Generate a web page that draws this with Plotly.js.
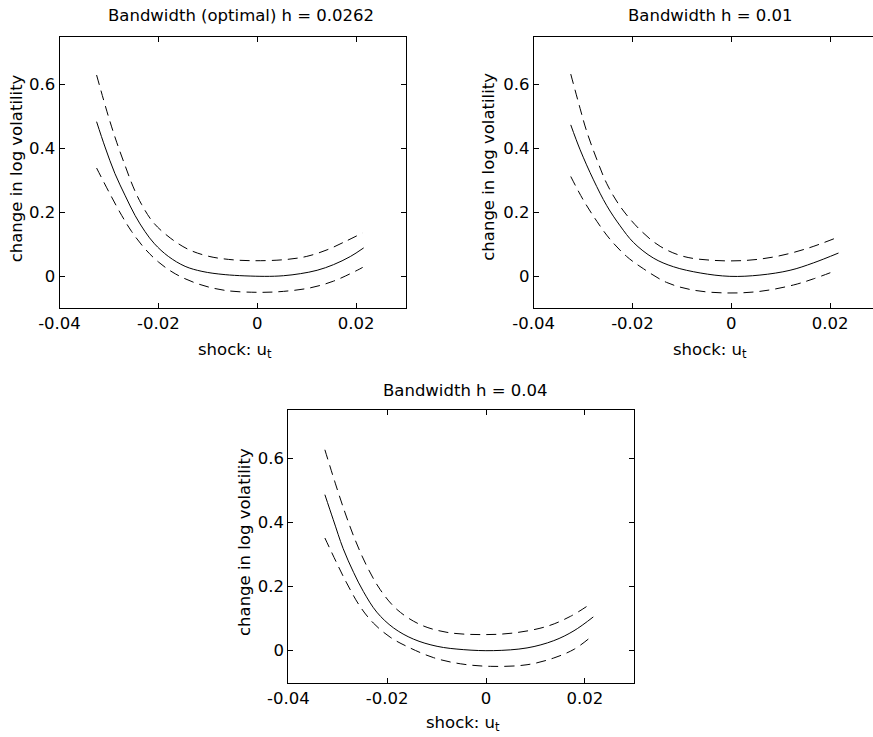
<!DOCTYPE html>
<html>
<head>
<meta charset="utf-8">
<script src="https://cdn.plot.ly/plotly-3.0.1.min.js"></script>
<style>
html, body { margin: 0; padding: 0; overflow: hidden; background: #fff; }
#chart { width: 880px; height: 737px; }
</style>
</head>
<body>
<div id="chart"></div>
<script>
// ---- data ----
const xTickVals = [-0.04, -0.02, 0, 0.02];
const xTickText = ['-0.04', '-0.02', '0', '0.02'];
const yTickVals = [0, 0.2, 0.4, 0.6];
const yTickText = ['0', '0.2', '0.4', '0.6'];

const panelTitles = ['Bandwidth (optimal) h = 0.0262', 'Bandwidth h = 0.01', 'Bandwidth h = 0.04'];
const xLabel = 'shock: u<sub>t</sub>';
const yLabel = 'change in log volatility';

// Panel 1: h = 0.0262
const p1EstU = [-0.0325,-0.0308,-0.0288,-0.0267,-0.0247,-0.0227,-0.0208,-0.0180,-0.0146,-0.0112,-0.0065,0.0014,0.0053,0.0087,0.0121,0.0154,0.0188,0.0215];
const p1EstV = [0.484,0.405,0.322,0.252,0.190,0.140,0.102,0.0625,0.0313,0.0156,0.0053,0.000,0.002,0.0084,0.019,0.0366,0.062,0.089];
const p1UpU = [-0.0325,-0.0301,-0.0284,-0.0267,-0.0251,-0.0234,-0.0210,-0.0176,-0.0139,-0.0099,-0.0058,-0.0011,0.0053,0.0100,0.0141,0.0175,0.0213];
const p1UpV = [0.630,0.500,0.418,0.345,0.280,0.225,0.168,0.120,0.084,0.063,0.053,0.049,0.052,0.0625,0.083,0.107,0.136];
const p1LoU = [-0.0325,-0.0298,-0.0274,-0.0254,-0.0227,-0.0200,-0.0166,-0.0119,-0.0065,0.0002,0.0053,0.0107,0.0154,0.0202,0.0213];
const p1LoV = [0.339,0.258,0.190,0.140,0.086,0.045,0.008,-0.024,-0.044,-0.050,-0.047,-0.036,-0.015,0.019,0.028];

// Panel 2: h = 0.01
const p2EstU = [-0.0325,-0.0306,-0.0279,-0.0252,-0.0225,-0.0198,-0.0158,-0.0117,-0.0063,-0.0003,0.0058,0.0119,0.0166,0.0217];
const p2EstV = [0.474,0.396,0.302,0.221,0.158,0.106,0.0575,0.030,0.0106,0.000,0.004,0.019,0.042,0.073];
const p2UpU = [-0.0325,-0.0306,-0.0293,-0.0272,-0.0252,-0.0225,-0.0185,-0.0144,-0.0097,-0.0036,0.0031,0.0092,0.0153,0.0210];
const p2UpV = [0.633,0.525,0.455,0.365,0.290,0.219,0.146,0.094,0.0625,0.050,0.050,0.0625,0.087,0.119];
const p2LoU = [-0.0325,-0.0300,-0.0272,-0.0246,-0.0212,-0.0178,-0.0131,-0.0077,-0.0009,0.0058,0.0126,0.0166,0.0210];
const p2LoV = [0.3125,0.240,0.172,0.117,0.0625,0.024,-0.019,-0.043,-0.052,-0.047,-0.027,-0.008,0.017];

// Panel 3: h = 0.04
const p3EstU = [-0.0326,-0.0309,-0.0289,-0.0268,-0.0248,-0.0221,-0.0187,-0.0147,-0.0099,-0.0045,0.0015,0.0083,0.0137,0.0178,0.0217];
const p3EstV = [0.486,0.408,0.318,0.244,0.184,0.120,0.0707,0.036,0.0134,0.003,0.000,0.0084,0.031,0.062,0.105];
const p3UpU = [-0.0326,-0.0305,-0.0285,-0.0265,-0.0241,-0.0214,-0.0180,-0.0133,-0.0079,-0.0012,0.0056,0.0124,0.0171,0.0207];
const p3UpV = [0.626,0.522,0.429,0.346,0.263,0.190,0.128,0.081,0.057,0.050,0.055,0.076,0.107,0.141];
const p3LoU = [-0.0326,-0.0302,-0.0282,-0.0255,-0.0228,-0.0194,-0.0160,-0.0106,-0.0052,0.0009,0.0083,0.0137,0.0178,0.0207];
const p3LoV = [0.351,0.273,0.211,0.138,0.086,0.042,0.013,-0.022,-0.041,-0.049,-0.044,-0.023,0.004,0.036];

// ---- figure ----
const W = 880, H = 737;
const FONT = 'DejaVu Sans, Verdana, sans-serif';
const FS = 16.5;
const fx = p => p / W;
const fy = p => 1 - p / H;

const solid = {color: '#000', width: 1, shape: 'spline', smoothing: 1};
const dashed = {color: '#000', width: 1, dash: '10px,6px', shape: 'spline', smoothing: 1};

function tr(u, v, line, ax) {
  return {x: u, y: v, type: 'scatter', mode: 'lines', line: line,
          xaxis: 'x' + ax, yaxis: 'y' + ax, hoverinfo: 'skip', showlegend: false};
}
const data = [
  tr(p1EstU, p1EstV, solid, ''), tr(p1UpU, p1UpV, dashed, ''), tr(p1LoU, p1LoV, dashed, ''),
  tr(p2EstU, p2EstV, solid, '2'), tr(p2UpU, p2UpV, dashed, '2'), tr(p2LoU, p2LoV, dashed, '2'),
  tr(p3EstU, p3EstV, solid, '3'), tr(p3UpU, p3UpV, dashed, '3'), tr(p3LoU, p3LoV, dashed, '3')
];

function xa(l, r, anchor) {
  return {domain: [fx(l), fx(r)], range: [-0.04, 0.03], anchor: anchor,
          tickmode: 'array', tickvals: xTickVals, ticktext: xTickText,
          ticks: 'inside', ticklen: 5, tickwidth: 1, tickcolor: '#000',
          showline: true, linecolor: '#000', linewidth: 1, mirror: 'ticks',
          showgrid: false, zeroline: false, fixedrange: true,
          tickfont: {family: FONT, size: FS, color: '#000'}};
}
function ya(t, b, anchor) {
  return {domain: [fy(b), fy(t)], range: [-0.1, 0.75], anchor: anchor,
          tickmode: 'array', tickvals: yTickVals, ticktext: yTickText,
          ticks: 'inside', ticklen: 5, tickwidth: 1, tickcolor: '#000',
          showline: true, linecolor: '#000', linewidth: 1, mirror: 'ticks',
          showgrid: false, zeroline: false, fixedrange: true,
          tickfont: {family: FONT, size: FS, color: '#000'}};
}

function ann(text, x, y, angle) {
  return {text: text, xref: 'paper', yref: 'paper', x: fx(x), y: fy(y),
          xanchor: 'center', yanchor: 'middle', showarrow: false,
          textangle: angle || 0, font: {family: FONT, size: FS, color: '#000'}};
}

const layout = {
  width: W, height: H, margin: {l: 0, r: 0, t: 0, b: 0},
  paper_bgcolor: '#fff', plot_bgcolor: '#fff', showlegend: false,
  xaxis: xa(59.5, 405.7, 'y'), yaxis: ya(36.7, 308.3, 'x'),
  xaxis2: xa(533.7, 879.5, 'y2'), yaxis2: ya(36.7, 308.3, 'x2'),
  xaxis3: xa(288.3, 634.3, 'y3'), yaxis3: ya(410, 682.7, 'x3'),
  annotations: [
    ann(panelTitles[0], 240.8, 15.5), ann(panelTitles[1], 710, 15.5), ann(panelTitles[2], 465.8, 390.5),
    ann(xLabel, 235.3, 350), ann(xLabel, 709.7, 350), ann(xLabel, 463.3, 723),
    ann(yLabel, 16, 168.3, -90), ann(yLabel, 489, 166.7, -90), ann(yLabel, 244, 542, -90)
  ]
};

Plotly.newPlot('chart', data, layout, {staticPlot: true, displayModeBar: false});
</script>
</body>
</html>
